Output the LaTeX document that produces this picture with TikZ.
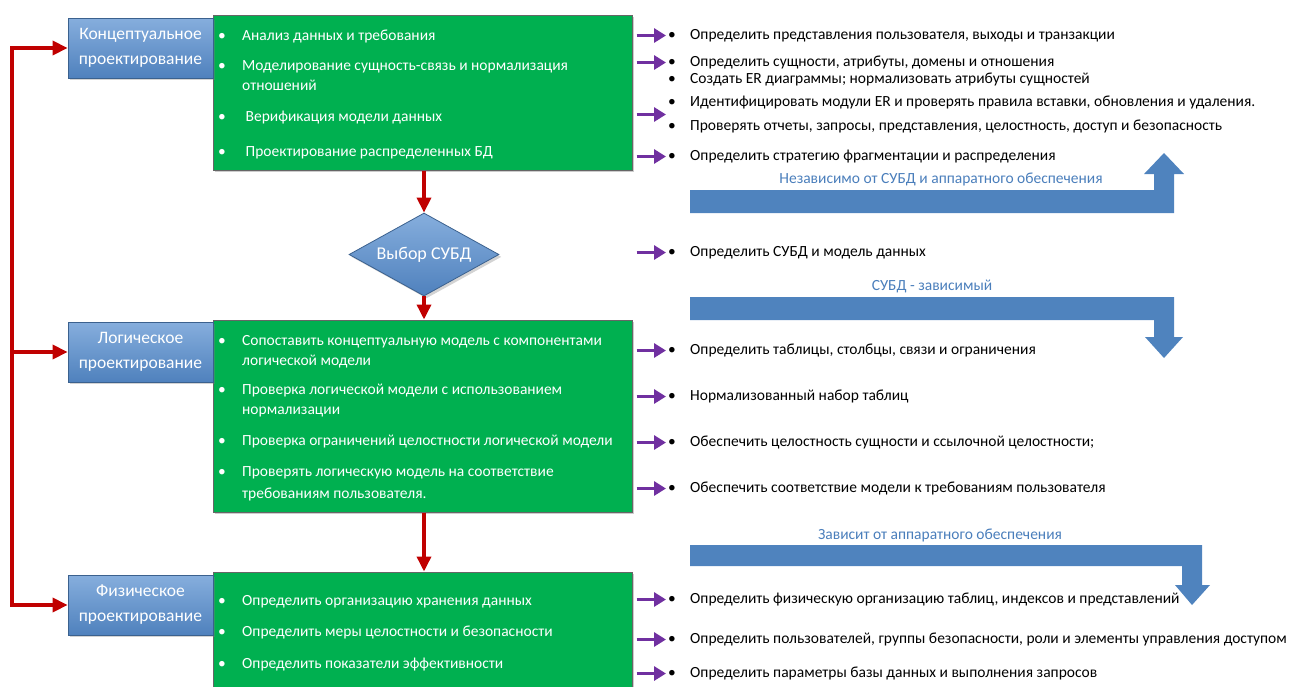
\documentclass[tikz,border=0pt]{standalone}
\usepackage{fontspec}
\setmainfont{Carlito}
\usetikzlibrary{shapes.geometric,arrows.meta,shadows,calc}
\definecolor{taskgreen}{HTML}{00B050}
\definecolor{stageblue}{HTML}{4F81BD}
\definecolor{stagebluelt}{HTML}{86AEDD}
\definecolor{flowred}{HTML}{C00000}
\definecolor{flowpurple}{HTML}{7030A0}
\definecolor{bandblue}{HTML}{4F83BE}
\definecolor{labelblue}{HTML}{4A7EBB}
\newcommand{\gbul}{\makebox[24pt][l]{\textbullet}}
\newcommand{\rbul}{\makebox[22pt][l]{\textbullet}}
\begin{document}
\begin{tikzpicture}[x=1pt,y=-1pt,
  stage/.style={draw=stageblue!75!black, line width=0.8pt, top color=stagebluelt, bottom color=stageblue,
    text=white, align=center, minimum width=145pt, minimum height=60pt, inner sep=0pt,
    font=\fontsize{17.5}{25}\selectfont, drop shadow={opacity=0.35}},
  taskbox/.style={draw=black!60, line width=1pt, fill=taskgreen, minimum width=419pt, inner sep=0pt,
    drop shadow={opacity=0.4}},
  decision/.style={shape=diamond, aspect=1.8, minimum width=150pt, minimum height=83pt, inner sep=0pt,
    draw=stageblue!75!black, line width=0.8pt, top color=stagebluelt, bottom color=stageblue,
    text=white, font=\fontsize{18}{20}\selectfont, drop shadow={opacity=0.35}},
  gitem/.style={anchor=base west, text=white, align=left, font=\fontsize{15.5}{20}\selectfont, inner sep=0pt},
  ritem/.style={anchor=base west, align=left, font=\fontsize{15.5}{18}\selectfont, inner sep=0pt,
    text height=10pt, text depth=3pt},
  bandlabel/.style={text=labelblue, font=\fontsize{15.5}{18}\selectfont, inner sep=0pt},
  band/.style={fill=bandblue, draw=none},
  flow/.style={draw=flowred, line width=3.5pt, -{Triangle[length=15pt,width=14pt]}},
  feed/.style={draw=flowpurple, line width=3pt, -{Triangle[length=12pt,width=14pt]}},
]
\useasboundingbox (0,0) rectangle (1289,686);

% green task boxes
\node[taskbox, minimum height=155pt] (g1) at (422.5,92.5) {};
\node[taskbox, minimum height=192pt] (g2) at (422.5,416) {};
\node[taskbox, minimum height=116pt] (g3) at (422.5,630) {};

% stage boxes
\node[stage] (b1) at (140.5,48) {Концептуальное\\проектирование};
\node[stage] (b2) at (140.5,352) {Логическое\\проектирование};
\node[stage] (b3) at (140.5,605) {Физическое\\проектирование};

% decision
\node[decision] (d) at (424,254.5) {Выбор СУБД};

% tasks inside the boxes (base = baseline of the last line)
\node[gitem] (g1a) at (218,40) {\gbul Анализ данных и требования};
\node[gitem] (g1b) at (218,90) {\gbul Моделирование сущность-связь и нормализация\\\hspace*{24pt}отношений};
\node[gitem] (g1c) at (218,121) {\gbul\ Верификация модели данных};
\node[gitem] (g1d) at (218,156) {\gbul\ Проектирование распределенных БД};

\node[gitem] (g2a) at (218,365) {\gbul Сопоставить концептуальную модель с компонентами\\\hspace*{24pt}логической модели};
\node[gitem] (g2b) at (218,414) {\gbul Проверка логической модели с использованием\\\hspace*{24pt}нормализации};
\node[gitem] (g2c) at (218,445) {\gbul Проверка ограничений целостности логической модели};
\node[gitem, font=\fontsize{15.5}{22}\selectfont] (g2d) at (218,498) {\gbul Проверять логическую модель на соответствие\\\hspace*{24pt}требованиям пользователя.};

\node[gitem] (g3a) at (218,605) {\gbul Определить организацию хранения данных};
\node[gitem] (g3b) at (218,636) {\gbul Определить меры целостности и безопасности};
\node[gitem] (g3c) at (218,668) {\gbul Определить показатели эффективности};

% outcomes
\node[ritem] (r1) at (668,39) {\rbul Определить представления пользователя, выходы и транзакции};
\node[ritem] (r2a) at (668,66) {\rbul Определить сущности, атрибуты, домены и отношения};
\node[ritem] (r2b) at (668,83) {\rbul Создать ER диаграммы; нормализовать атрибуты сущностей};
\node[ritem] (r3a) at (668,106) {\rbul Идентифицировать модули ER и проверять правила вставки, обновления и удаления.};
\node[ritem] (r3b) at (668,130) {\rbul Проверять отчеты, запросы, представления, целостность, доступ и безопасность};
\node[ritem] (r4) at (668,160) {\rbul Определить стратегию фрагментации и распределения};
\node[ritem] (r5) at (668,256) {\rbul Определить СУБД и модель данных};
\node[ritem] (r6) at (668,354) {\rbul Определить таблицы, столбцы, связи и ограничения};
\node[ritem] (r7) at (668,400) {\rbul Нормализованный набор таблиц};
\node[ritem] (r8) at (668,446) {\rbul Обеспечить целостность сущности и ссылочной целостности;};
\node[ritem] (r9) at (668,492) {\rbul Обеспечить соответствие модели к требованиям пользователя};
\node[ritem] (r10) at (668,603) {\rbul Определить физическую организацию таблиц, индексов и представлений};
\node[ritem] (r11) at (668,643) {\rbul Определить пользователей, группы безопасности, роли и элементы управления доступом};
\node[ritem] (r12) at (668,677) {\rbul Определить параметры базы данных и выполнения запросов};
\coordinate (r3m) at ($(r3a.west)!0.5!(r3b.west)$);

% dependency bands
\path[band] (690,190) -- (1154,190) -- (1154,174) -- (1144,174) -- (1164,153) -- (1184,174)
  -- (1174,174) -- (1174,213) -- (690,213) -- cycle;
\node[bandlabel] (l1) at (941,179) {Независимо от СУБД и аппаратного обеспечения};
\path[band] (690,297) -- (1174,297) -- (1174,337) -- (1183,337) -- (1164,358) -- (1145,337)
  -- (1154,337) -- (1154,320) -- (690,320) -- cycle;
\node[bandlabel] (l2) at (932,286) {СУБД - зависимый};
\path[band] (690,545) -- (1202,545) -- (1202,585) -- (1210,585) -- (1192,605) -- (1175,585)
  -- (1182,585) -- (1182,566) -- (690,566) -- cycle;
\node[bandlabel] (l3) at (940,535) {Зависит от аппаратного обеспечения};

% main flow
\draw[flow] (d.north |- g1.south) -- (d.north);
\draw[flow] (d.south) -- (d.south |- g2.north);
\draw[flow] (d.south |- g2.south) -- (d.south |- g3.north);

% feedback loop on the left
\coordinate (lt) at (12,48);
\coordinate (lb) at (12,605);
\draw[flowred, line width=3.5pt] (lt) -- (lb);
\draw[flow] ([xshift=-1.75pt]lt) -- (b1.west);
\draw[flow] (lt |- b2.west) -- (b2.west);
\draw[flow] ([xshift=-1.75pt]lb) -- (b3.west);

% task-to-outcome arrows
\foreach \t/\r in {g1/r1, g1/r2a, g1/r3m, g1/r4, g2/r6, g2/r7, g2/r8, g2/r9, g3/r10, g3/r11, g3/r12}
  \draw[feed] ([xshift=4pt]\t.east |- \r) -- ([xshift=-2pt]\r.west);
\draw[feed] ([xshift=4pt]g1.east |- r5.west) -- ([xshift=-2pt]r5.west);
\end{tikzpicture}
\end{document}
